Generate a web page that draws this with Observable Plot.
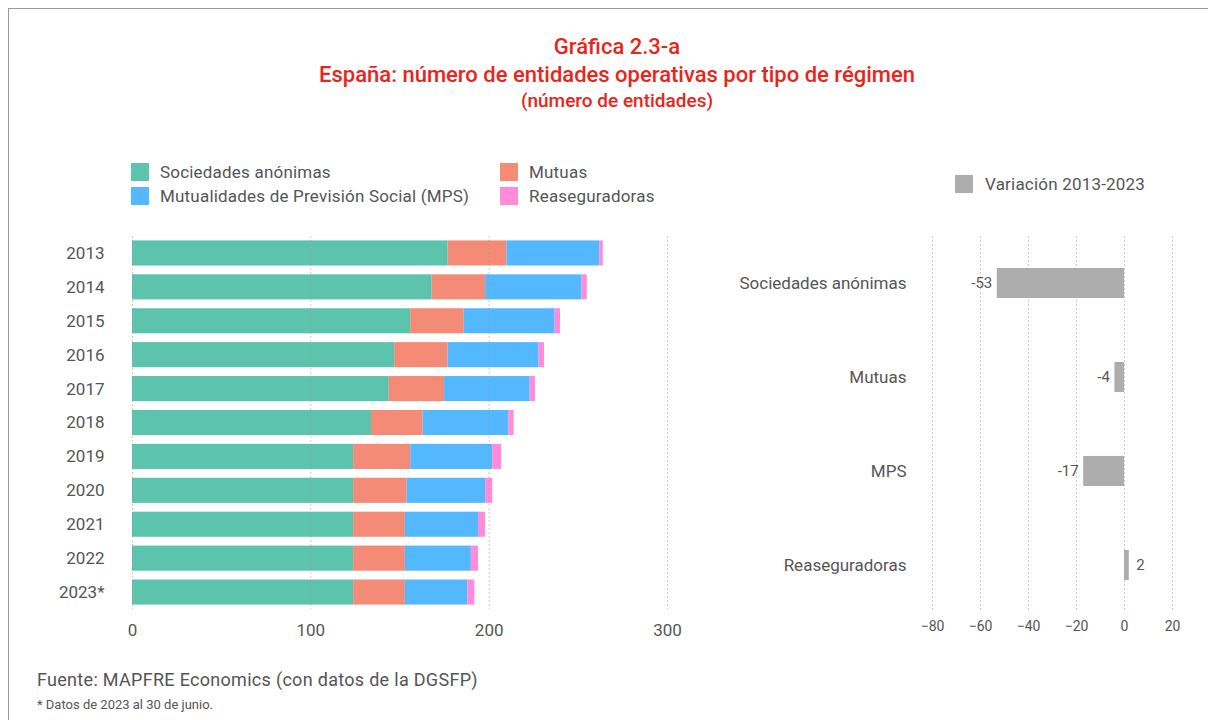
<!DOCTYPE html>
<html><head><meta charset="utf-8">
<script src="https://cdn.jsdelivr.net/npm/d3@7"></script>
<script src="https://cdn.jsdelivr.net/npm/@observablehq/plot@0.6"></script>
<style>
body{margin:0;background:#fff;}
#root{position:relative;width:1208px;height:720px;overflow:hidden;font-family:Roboto,sans-serif;color:#555;background:#fff;}
.abs{position:absolute;white-space:nowrap;}
.title{left:0;width:1234px;text-align:center;color:#e8251a;font-weight:500;}
.sw{position:absolute;width:18px;height:18px;}
.lg{position:absolute;font-size:17px;line-height:18px;color:#555;white-space:nowrap;letter-spacing:0.2px;}
</style></head><body><div id="root"></div>
<script>
const years = ["2013","2014","2015","2016","2017","2018","2019","2020","2021","2022","2023*"];
const sociedades = [177,168,156,147,144,134,124,124,124,124,124];
const mutuas     = [33,30,30,30,31,29,32,30,29,29,29];
const mps        = [52,54,51,51,48,48,46,44,41,37,35];
const reaseg     = [2,3,3,3,3,3,5,4,4,4,4];
const seriesNames = ["Sociedades anónimas","Mutuas","Mutualidades de Previsión Social (MPS)","Reaseguradoras"];
const seriesColors = ["#5cc4ac","#f38b77","#53b8fe","#ff8bd9"];

const varCategories = ["Sociedades anónimas","Mutuas","MPS","Reaseguradoras"];
const varValues = [-53,-4,-17,2];

const root = document.getElementById("root");
function add(html){root.insertAdjacentHTML("beforeend", html);}

// frame
add(`<div class="abs" style="left:8px;top:8px;width:1200px;height:1px;background:#9a9a9a"></div>`);
add(`<div class="abs" style="left:8px;top:8px;width:1px;height:712px;background:#9a9a9a"></div>`);

// titles
add(`<div class="abs title" style="top:34px;font-size:22px;line-height:26px">Gráfica 2.3-a</div>`);
add(`<div class="abs title" style="top:62px;font-size:22px;line-height:26px">España: número de entidades operativas por tipo de régimen</div>`);
add(`<div class="abs title" style="top:89px;font-size:19px;line-height:24px">(número de entidades)</div>`);

// left legend
const legPos = [[131,163],[500,163],[131,187],[500,187]];
[0,1,2,3].forEach((i,k)=>{
  const [x,y] = legPos[k];
  add(`<div class="sw" style="left:${x}px;top:${y}px;background:${seriesColors[i]}"></div>`);
  add(`<div class="lg" style="left:${x+29}px;top:${y}px">${seriesNames[i]}</div>`);
});
// right legend
add(`<div class="sw" style="left:955px;top:175px;background:#adadad"></div>`);
add(`<div class="lg" style="left:985px;top:175px">Variación 2013-2023</div>`);

// source
add(`<div class="abs" style="left:37px;top:669px;font-size:18px;line-height:22px;color:#555;letter-spacing:0.3px">Fuente: MAPFRE Economics (con datos de la DGSFP)</div>`);
add(`<div class="abs" style="left:37px;top:697px;font-size:13px;line-height:15px;color:#555">* Datos de 2023 al 30 de junio.</div>`);

// data table for stacked bars
const stacked = [];
years.forEach((y,i)=>{
  [sociedades[i],mutuas[i],mps[i],reaseg[i]].forEach((v,j)=>{
    stacked.push({year:y, serie:seriesNames[j], value:v});
  });
});

const chart1 = Plot.plot({
  width: 700, height: 430,
  marginLeft: 132, marginRight: 33, marginTop: 16, marginBottom: 41,
  style: {fontFamily: "Roboto, sans-serif", fontSize: "17px", color: "#555", background: "transparent"},
  x: {domain: [0,300], ticks: [0,100,200,300], tickSize: 0, tickPadding: 14, label: null},
  y: {domain: years, paddingInner: 0.26, paddingOuter: 0.13, round: false, tickSize: 0, tickPadding: 28, label: null},
  color: {domain: seriesNames, range: seriesColors},
  marks: [
    Plot.barX(stacked, Plot.stackX({x: "value", y: "year", fill: "serie", order: seriesNames})),
    Plot.ruleX([0,100,200,300], {stroke: "#999", strokeOpacity: 0.5, strokeDasharray: "2,2"}),
  ]
});
chart1.style.position = "absolute";
chart1.style.left = "0px";
chart1.style.top = "220px";
root.appendChild(chart1);

const varData = varCategories.map((c,i)=>({cat:c, value:varValues[i]}));
const chart2 = Plot.plot({
  width: 508, height: 430,
  marginLeft: 232, marginRight: 36, marginTop: 16, marginBottom: 38,
  style: {fontFamily: "Roboto, sans-serif", fontSize: "17px", color: "#555", background: "transparent"},
  x: {domain: [-80,20], ticks: [-80,-60,-40,-20,0,20], tickSize: 0, tickPadding: 9, label: null},
  y: {domain: varCategories, paddingInner: 0.68, paddingOuter: 0.34, round: false, tickSize: 0, tickPadding: 26, label: null},
  marks: [
    Plot.ruleX([-80,-60,-40,-20,0,20], {stroke: "#999", strokeOpacity: 0.5, strokeDasharray: "2,2"}),
    Plot.barX(varData, {x: "value", y: "cat", fill: "#adadad"}),
    Plot.text(varData.filter(d=>d.value<0), {x: "value", y: "cat", text: d=>String(d.value), textAnchor: "end", dx: -5, fontSize: 15, fill: "#555"}),
    Plot.text(varData.filter(d=>d.value>=0), {x: "value", y: "cat", text: d=>String(d.value), textAnchor: "start", dx: 7, fontSize: 15, fill: "#555"}),
  ]
});
chart2.style.position = "absolute";
chart2.style.left = "700px";
chart2.style.top = "220px";
chart2.querySelectorAll('[aria-label="x-axis tick label"] text').forEach(t=>t.style.fontSize="14px");
root.appendChild(chart2);
</script>
</body></html>
